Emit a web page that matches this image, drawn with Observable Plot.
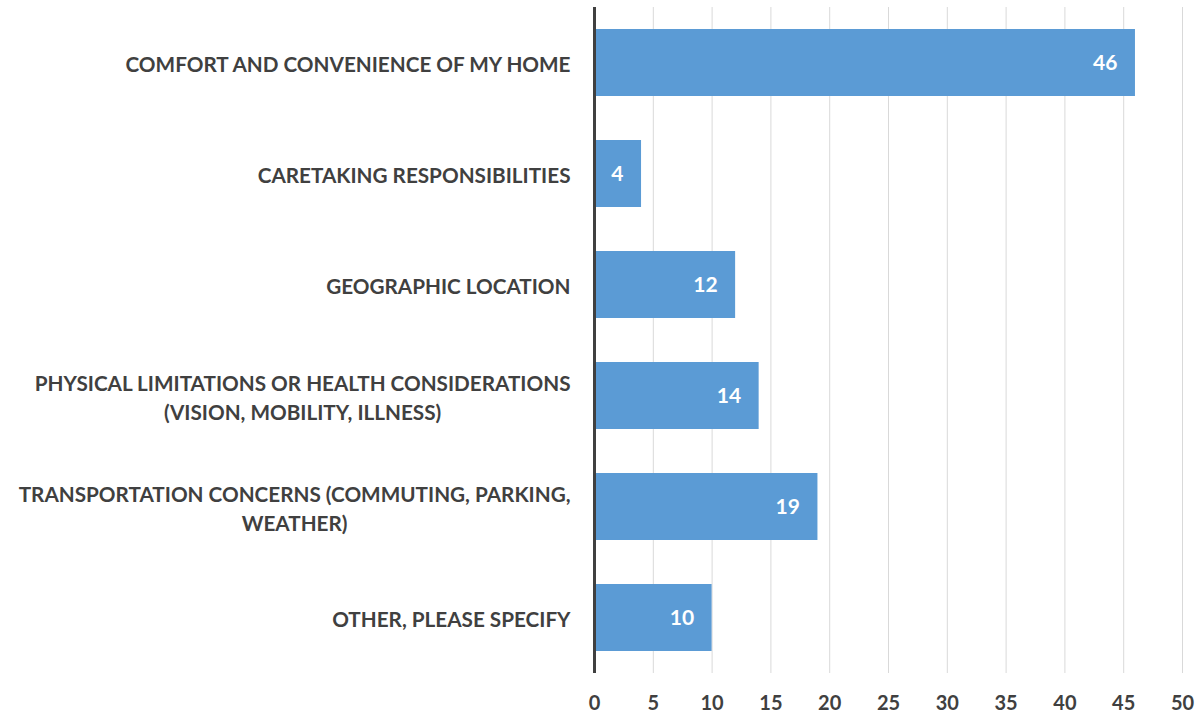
<!DOCTYPE html>
<html><head><meta charset="utf-8">
<script src="https://cdn.jsdelivr.net/npm/d3@7"></script>
<script src="https://cdn.jsdelivr.net/npm/@observablehq/plot@0.6"></script>
<style>
body{margin:0;background:#fff;}
</style>
</head><body><div id="chart"></div>
<script>
const categories = [
  "COMFORT AND CONVENIENCE OF MY HOME",
  "CARETAKING RESPONSIBILITIES",
  "GEOGRAPHIC LOCATION",
  "PHYSICAL LIMITATIONS OR HEALTH CONSIDERATIONS\n(VISION, MOBILITY, ILLNESS)",
  "TRANSPORTATION CONCERNS (COMMUTING, PARKING,\nWEATHER)",
  "OTHER, PLEASE SPECIFY"
];
const values = [46, 4, 12, 14, 19, 10];
const xTicks = [0, 5, 10, 15, 20, 25, 30, 35, 40, 45, 50];

const data = categories.map((c, i) => ({category: c, value: values[i]}));
const font = "Lato, 'Open Sans', sans-serif";

const chart = Plot.plot({
  width: 1202,
  height: 717,
  marginLeft: 594,
  marginRight: 20,
  marginTop: 7,
  marginBottom: 44,
  style: {fontFamily: font, fontWeight: "bold", color: "#404040", background: "#fff"},
  x: {domain: [0, 50], ticks: xTicks, label: null},
  y: {domain: categories, paddingInner: 0.4, paddingOuter: 0.2, label: null},
  marks: [
    Plot.gridX(xTicks, {stroke: "#d9d9d9", strokeOpacity: 1, strokeWidth: 1}),
    Plot.axisX({ticks: xTicks, tickSize: 0, tickPadding: 22, fontSize: 20, fill: "#404040", label: null}),
    Plot.axisY({tickSize: 0, tickPadding: 24, fontSize: 20.7, fill: "#404040", label: null, lineHeight: 1.4}),
    Plot.barX(data, {x: "value", y: "category", fill: "#5B9BD5"}),
    Plot.ruleX([0], {stroke: "#404040", strokeWidth: 3}),
    Plot.text(data, {x: "value", y: "category", text: d => String(d.value), textAnchor: "end", dx: -18, fill: "#fff", fontSize: 21, fontWeight: "bold"})
  ]
});
document.getElementById("chart").appendChild(chart);

// center multi-line y labels under their longest line (right-aligned block)
chart.querySelectorAll("[aria-label='y-axis tick label'] text").forEach(t => {
  const spans = t.querySelectorAll("tspan");
  if (spans.length > 1) {
    let maxW = 0;
    spans.forEach(s => { maxW = Math.max(maxW, s.getComputedTextLength()); });
    t.setAttribute("text-anchor", "middle");
    const baseX = parseFloat(t.getAttribute("x") || 0);
    spans.forEach(s => { s.setAttribute("x", baseX - maxW / 2); });
  }
});
</script>
</body></html>
